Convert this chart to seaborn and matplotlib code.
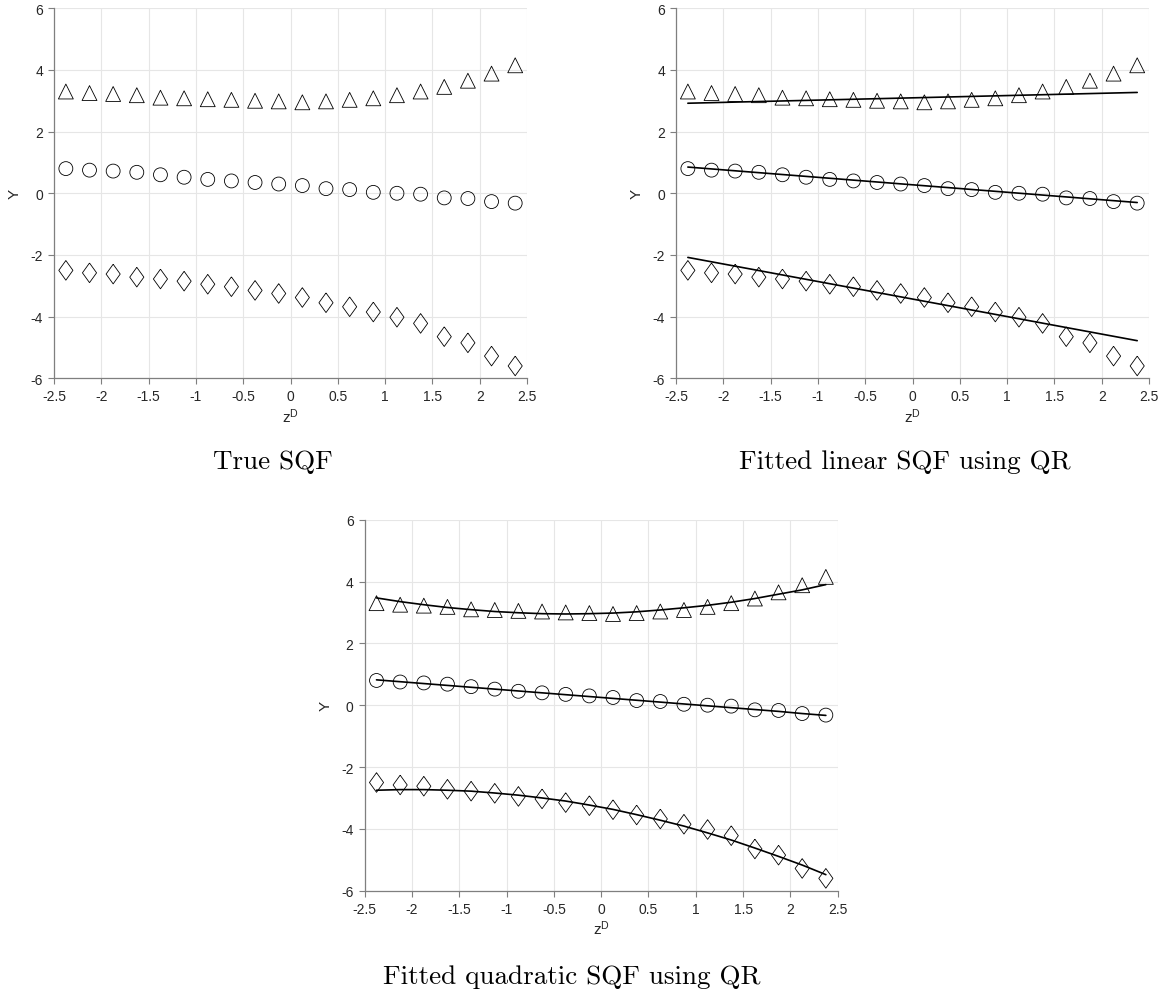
import numpy as np
import pandas as pd
import matplotlib
matplotlib.use("Agg")
import matplotlib.pyplot as plt
import seaborn as sns

# --- data ---
z_vals = [-2.375, -2.125, -1.875, -1.625, -1.375, -1.125, -0.875, -0.625, -0.375, -0.125,
          0.125, 0.375, 0.625, 0.875, 1.125, 1.375, 1.625, 1.875, 2.125, 2.375]

tri_vals = [3.30, 3.25, 3.22, 3.18, 3.10, 3.08, 3.05, 3.03, 3.00, 2.98,
            2.95, 2.98, 3.03, 3.08, 3.18, 3.30, 3.45, 3.65, 3.88, 4.15]
circ_vals = [0.80, 0.75, 0.72, 0.68, 0.60, 0.52, 0.45, 0.40, 0.35, 0.30,
             0.25, 0.15, 0.12, 0.03, 0.00, -0.03, -0.15, -0.17, -0.27, -0.32]
diam_vals = [-2.50, -2.58, -2.62, -2.72, -2.78, -2.85, -2.95, -3.03, -3.15, -3.25,
             -3.38, -3.55, -3.68, -3.85, -4.02, -4.22, -4.65, -4.85, -5.28, -5.60]

# fitted linear SQF (end points)
lin_z = [-2.375, 2.375]
lin_tri = [2.92, 3.27]
lin_circ = [0.85, -0.30]
lin_diam = [-2.08, -4.78]

# fitted quadratic SQF
quad_tri = [3.47, 3.35, 3.25, 3.16, 3.09, 3.03, 2.99, 2.96, 2.95, 2.96,
            2.98, 3.02, 3.08, 3.15, 3.23, 3.33, 3.45, 3.59, 3.73, 3.90]
quad_circ = [0.82, 0.76, 0.70, 0.64, 0.58, 0.52, 0.46, 0.40, 0.34, 0.28,
             0.22, 0.16, 0.10, 0.04, -0.02, -0.08, -0.14, -0.20, -0.27, -0.33]
quad_diam = [-2.75, -2.73, -2.73, -2.75, -2.78, -2.84, -2.91, -3.00, -3.10, -3.23,
             -3.37, -3.54, -3.72, -3.91, -4.13, -4.36, -4.62, -4.89, -5.17, -5.48]

x_ticks = [-2.5, -2, -1.5, -1, -0.5, 0, 0.5, 1, 1.5, 2, 2.5]
x_ticklabels = ["-2.5", "-2", "-1.5", "-1", "-0.5", "0", "0.5", "1", "1.5", "2", "2.5"]
y_ticks = [-6, -4, -2, 0, 2, 4, 6]
captions = ["True SQF", "Fitted linear SQF using QR", "Fitted quadratic SQF using QR"]

sns.set_theme(style="white")
plt.rcParams["font.family"] = ["Liberation Sans", "DejaVu Sans"]
plt.rcParams["axes.unicode_minus"] = False
plt.rcParams["mathtext.fontset"] = "custom"
plt.rcParams["mathtext.rm"] = "Liberation Sans"
plt.rcParams["mathtext.it"] = "Liberation Sans"

AX_COLOR = "#262626"
GRID_COLOR = "#e6e6e6"
# MATLAB-like diamond (a bit wider than matplotlib's thin 'd')
DIAMOND = [(0, 1), (0.72, 0), (0, -1), (-0.72, 0), (0, 1)]

fig = plt.figure(figsize=(11.67, 9.95), dpi=100)
ax1 = fig.add_axes([0.0463, 0.6188, 0.4053, 0.3719])
ax2 = fig.add_axes([0.5793, 0.6188, 0.4053, 0.3719])
ax3 = fig.add_axes([0.3125, 0.1038, 0.4053, 0.3729])


def draw_points(ax):
    for vals, mk, size in [(tri_vals, "^", 115), (circ_vals, "o", 100), (diam_vals, DIAMOND, 200)]:
        sns.scatterplot(x=z_vals, y=vals, marker=mk, s=size, ax=ax,
                        facecolor="none", edgecolor="black", linewidth=0.6, zorder=3)


def style_axis(ax):
    ax.set_xlim(-2.5, 2.5)
    ax.set_ylim(-6, 6)
    ax.set_xticks(x_ticks)
    ax.set_xticklabels(x_ticklabels)
    ax.set_yticks(y_ticks)
    ax.grid(True, color=GRID_COLOR, linewidth=0.8)
    ax.set_axisbelow(True)
    for side in ["top", "right"]:
        ax.spines[side].set_visible(False)
    for side in ["left", "bottom"]:
        ax.spines[side].set_color("#7f7f7f")
        ax.spines[side].set_linewidth(0.9)
    ax.tick_params(axis="both", direction="out", length=4, width=0.8,
                   color="#7f7f7f", labelsize=10, labelcolor=AX_COLOR, pad=4,
                   bottom=True, left=True)
    ax.set_xlabel(r"z$^{\mathrm{D}}$", fontsize=11, color=AX_COLOR, labelpad=2)
    ax.set_ylabel("Y", fontsize=11, color=AX_COLOR, labelpad=6)


# --- True SQF ---
draw_points(ax1)

# --- linear fit ---
draw_points(ax2)
for vals in [lin_tri, lin_circ, lin_diam]:
    sns.lineplot(x=lin_z, y=vals, ax=ax2, color="black", linewidth=1.2, zorder=2)

# --- quadratic fit ---
draw_points(ax3)
for vals in [quad_tri, quad_circ, quad_diam]:
    sns.lineplot(x=z_vals, y=vals, ax=ax3, color="black", linewidth=1.2, zorder=2)

for ax in [ax1, ax2, ax3]:
    style_axis(ax)

# captions under each panel
cap_font = dict(family=["cmr10", "DejaVu Serif"], fontsize=19.5, color="black", ha="center", va="center")
fig.text(273 / 1167, 1 - 462 / 995, captions[0], **cap_font)
fig.text(905 / 1167, 1 - 462 / 995, captions[1], **cap_font)
fig.text(572 / 1167, 1 - 977 / 995, captions[2], **cap_font)

fig.savefig("out.png", dpi=100)
